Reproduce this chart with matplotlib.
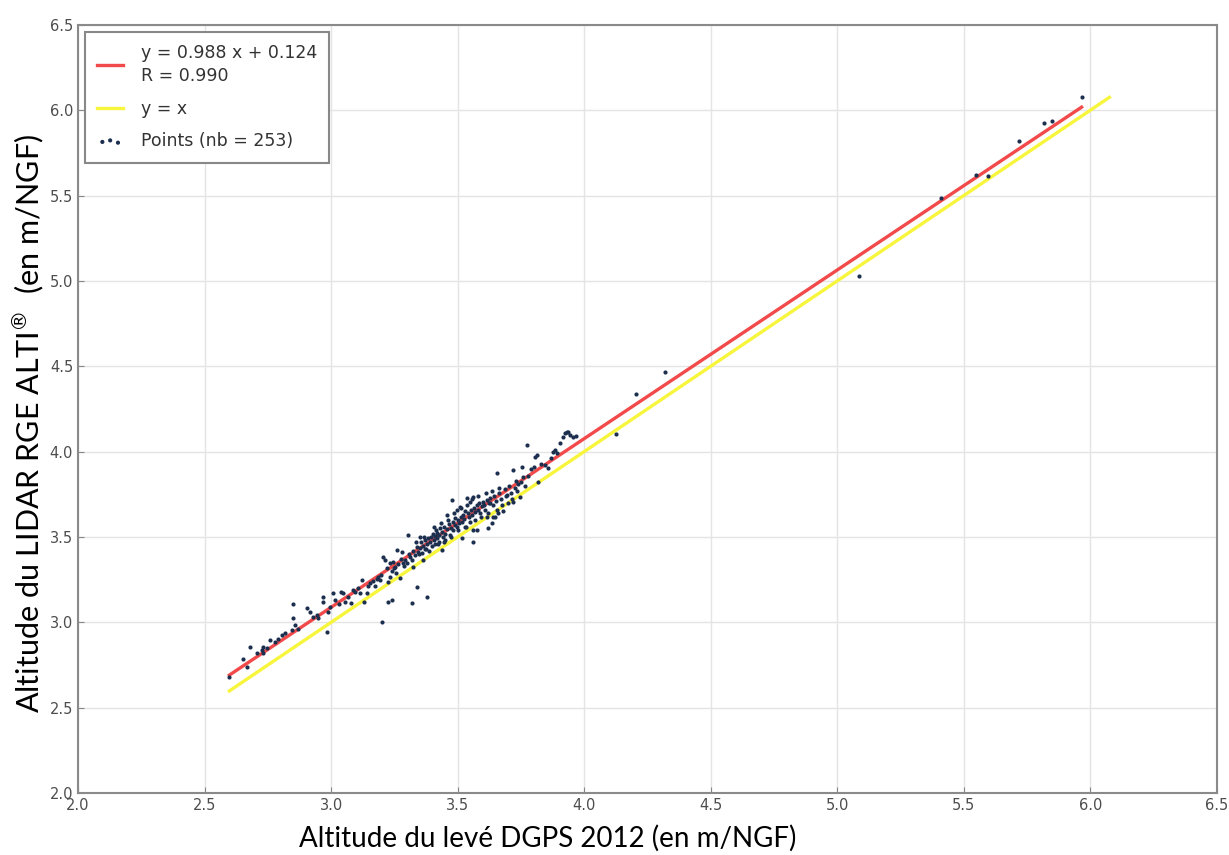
import numpy as np
import matplotlib.pyplot as plt

plt.rcParams['font.family'] = ['DejaVu Sans']

# regression shown in the legend
slope = 0.988
intercept = 0.124
r_value = 0.990

# DGPS 2012 altitude (x) vs LIDAR RGE ALTI altitude (y)
x_dgps = [
    2.598, 2.651, 2.667, 2.680, 2.706, 2.726, 2.732, 2.732, 2.745, 2.759,
    2.778, 2.790, 2.805, 2.818, 2.844, 2.848, 2.848, 2.857, 2.870, 2.906,
    2.917, 2.930, 2.943, 2.949, 2.967, 2.969, 2.985, 2.989, 2.995,
    3.009, 3.015, 3.030, 3.038, 3.048, 3.055, 3.065, 3.077, 3.085, 3.094,
    3.105, 3.114, 3.121, 3.130, 3.140, 3.145, 3.154, 3.165, 3.172, 3.180,
    3.187, 3.193, 3.200, 3.198,
    3.206, 3.213, 3.220, 3.226, 3.226, 3.233, 3.233, 3.239, 3.240, 3.246,
    3.250, 3.252, 3.255, 3.259, 3.265, 3.272, 3.275, 3.279, 3.285, 3.290,
    3.292, 3.299,
    3.305, 3.308, 3.312, 3.318, 3.318, 3.322, 3.325, 3.330, 3.338, 3.340,
    3.345, 3.351, 3.351, 3.355, 3.358, 3.362, 3.364, 3.370, 3.372, 3.378,
    3.380, 3.385, 3.388, 3.392, 3.395, 3.398,
    3.402, 3.405, 3.410, 3.412, 3.415, 3.418, 3.420, 3.425, 3.428, 3.432,
    3.437, 3.440, 3.442, 3.446, 3.450, 3.452, 3.457, 3.460, 3.465, 3.468,
    3.472, 3.477, 3.480, 3.483, 3.488, 3.490, 3.496, 3.498,
    3.502, 3.505, 3.509, 3.512, 3.516, 3.518, 3.522, 3.525, 3.530, 3.533,
    3.536, 3.540, 3.545, 3.549, 3.552, 3.555, 3.560, 3.562, 3.562, 3.565,
    3.570, 3.575, 3.578, 3.582, 3.586, 3.590, 3.595,
    3.601, 3.605, 3.608, 3.615, 3.618, 3.621, 3.625, 3.628, 3.630, 3.634,
    3.638, 3.641, 3.645, 3.650, 3.654, 3.657, 3.660, 3.665, 3.670, 3.675,
    3.680, 3.686, 3.690, 3.694, 3.698,
    3.705, 3.710, 3.715, 3.720, 3.720, 3.725, 3.730, 3.735, 3.740, 3.746,
    3.750, 3.753, 3.760, 3.765, 3.773, 3.780, 3.790, 3.800, 3.806, 3.812,
    3.819, 3.830, 3.845, 3.858, 3.870, 3.878, 3.885, 3.891, 3.905, 3.918,
    3.925, 3.931, 3.938, 3.945, 3.958, 3.968,
    4.126, 4.207, 4.318, 5.087, 5.409, 5.548, 5.598, 5.719, 5.818, 5.848,
    5.966,
    3.335, 3.348, 3.366, 3.376, 3.408, 3.422, 3.435, 3.448, 3.462, 3.475,
    3.485, 3.500, 3.515, 3.528, 3.538, 3.548, 3.558, 3.568, 3.580, 3.592,
    3.612, 3.622, 3.636, 3.648, 3.662,
]
y_lidar = [
    2.681, 2.788, 2.740, 2.857, 2.818, 2.838, 2.857, 2.818, 2.850, 2.896,
    2.886, 2.900, 2.925, 2.935, 2.955, 3.107, 3.023, 2.984, 2.960, 3.082,
    3.063, 3.030, 3.043, 3.023, 3.121, 3.150, 2.945, 3.063, 3.090,
    3.169, 3.131, 3.110, 3.179, 3.169, 3.121, 3.150, 3.111, 3.190, 3.179,
    3.200, 3.169, 3.248, 3.121, 3.169, 3.215, 3.228, 3.240, 3.210, 3.255,
    3.267, 3.248, 3.003, 3.280,
    3.385, 3.365, 3.316, 3.239, 3.121, 3.267, 3.346, 3.131, 3.300, 3.355,
    3.320, 3.326, 3.290, 3.424, 3.340, 3.258, 3.370, 3.414, 3.350, 3.330,
    3.365, 3.346,
    3.511, 3.400, 3.380, 3.365, 3.111, 3.326, 3.420, 3.395, 3.209, 3.440,
    3.410, 3.434, 3.502, 3.470, 3.404, 3.450, 3.365, 3.480, 3.430, 3.150,
    3.460, 3.495, 3.420, 3.470, 3.500, 3.445,
    3.520, 3.480, 3.505, 3.460, 3.540, 3.495, 3.525, 3.470, 3.510, 3.550,
    3.424, 3.530, 3.500, 3.560, 3.520, 3.480, 3.629, 3.545, 3.575, 3.510,
    3.555, 3.717, 3.590, 3.540, 3.570, 3.610, 3.658, 3.560,
    3.600, 3.580, 3.678, 3.620, 3.492, 3.590, 3.630, 3.605, 3.650, 3.560,
    3.727, 3.640, 3.615, 3.707, 3.660, 3.630, 3.472, 3.736, 3.541, 3.670,
    3.645, 3.541, 3.690, 3.660, 3.700, 3.640, 3.680,
    3.707, 3.690, 3.660, 3.717, 3.620, 3.551, 3.700, 3.697, 3.730, 3.580,
    3.620, 3.688, 3.740, 3.710, 3.658, 3.873, 3.640, 3.760, 3.720, 3.690,
    3.650, 3.780, 3.740, 3.746, 3.700,
    3.800, 3.760, 3.720, 3.892, 3.707, 3.790, 3.830, 3.770, 3.810, 3.736,
    3.820, 3.912, 3.850, 3.800, 4.039, 3.860, 3.900, 3.910, 3.970, 3.980,
    3.824, 3.930, 3.920, 3.902, 3.960, 3.999, 4.010, 3.990, 4.050, 4.087,
    4.110, 4.117, 4.117, 4.100, 4.087, 4.093,
    4.101, 4.337, 4.466, 5.029, 5.487, 5.620, 5.613, 5.820, 5.923, 5.935,
    6.076,
    3.470, 3.400, 3.500, 3.430, 3.560, 3.460, 3.580, 3.470, 3.600, 3.500,
    3.640, 3.540, 3.670, 3.560, 3.690, 3.590, 3.720, 3.600, 3.740, 3.620,
    3.760, 3.640, 3.770, 3.620, 3.790,
]

x_ticks = [2.0, 2.5, 3.0, 3.5, 4.0, 4.5, 5.0, 5.5, 6.0, 6.5]

x = np.array(x_dgps)
y = np.array(y_lidar)

fig = plt.figure(figsize=(12.29, 8.55), dpi=100)
ax = fig.add_axes([0.0635, 0.0725, 0.9265, 0.8983])

# fitted line over the x range, y = x over the full data range
xf = np.array([x.min(), x.max()])
ax.plot(xf, slope * xf + intercept, color='#f24a4a', lw=2.4, zorder=3,
        label='y = {:.3f} x + {:.3f}\nR = {:.3f}'.format(slope, intercept, r_value))
xi = np.array([x.min(), max(x.max(), y.max())])
ax.plot(xi, xi, color='#f7f53c', lw=2.4, zorder=2, label='y = x')
ax.scatter(x, y, s=9, color='#1d2f4f', zorder=4, linewidths=0,
           label='Points (nb = {})'.format(len(x)))

ax.set_xlim(2.0, 6.5)
ax.set_ylim(2.0, 6.5)
ax.set_xticks(x_ticks)
ax.set_yticks(x_ticks)
ax.set_xticklabels(['{:.1f}'.format(t) for t in x_ticks])
ax.set_yticklabels(['{:.1f}'.format(t) for t in x_ticks])
ax.tick_params(labelsize=10.5, labelcolor='#4d4d4d', color='#888888',
               direction='in', length=4)
ax.grid(True, color='#e4e4e4', lw=1)
ax.set_axisbelow(True)
for sp in ax.spines.values():
    sp.set_color('#8a8a8a')
    sp.set_linewidth(1.5)

leg = ax.legend(loc='upper left', scatterpoints=3, fontsize=12.5,
                borderpad=0.7, handlelength=1.5, handletextpad=1.0,
                labelspacing=0.85, fancybox=False, framealpha=1,
                borderaxespad=0.4)
leg.get_frame().set_edgecolor('#888888')
leg.get_frame().set_linewidth(1.5)
for t in leg.get_texts():
    t.set_color('#333333')
    t.set_linespacing(1.35)

label_font = ['Lato', 'DejaVu Sans']
fig.text(0.446, 0.02, 'Altitude du levé DGPS 2012 (en m/NGF)', ha='center',
         va='center', fontsize=20, family=label_font)
fig.text(0.023, 0.505, r'Altitude du LIDAR RGE ALTI$^{\circledR}$  (en m/NGF)',
         ha='center', va='center', rotation=90, fontsize=22, family=label_font)

fig.savefig('out.png', dpi=100)
